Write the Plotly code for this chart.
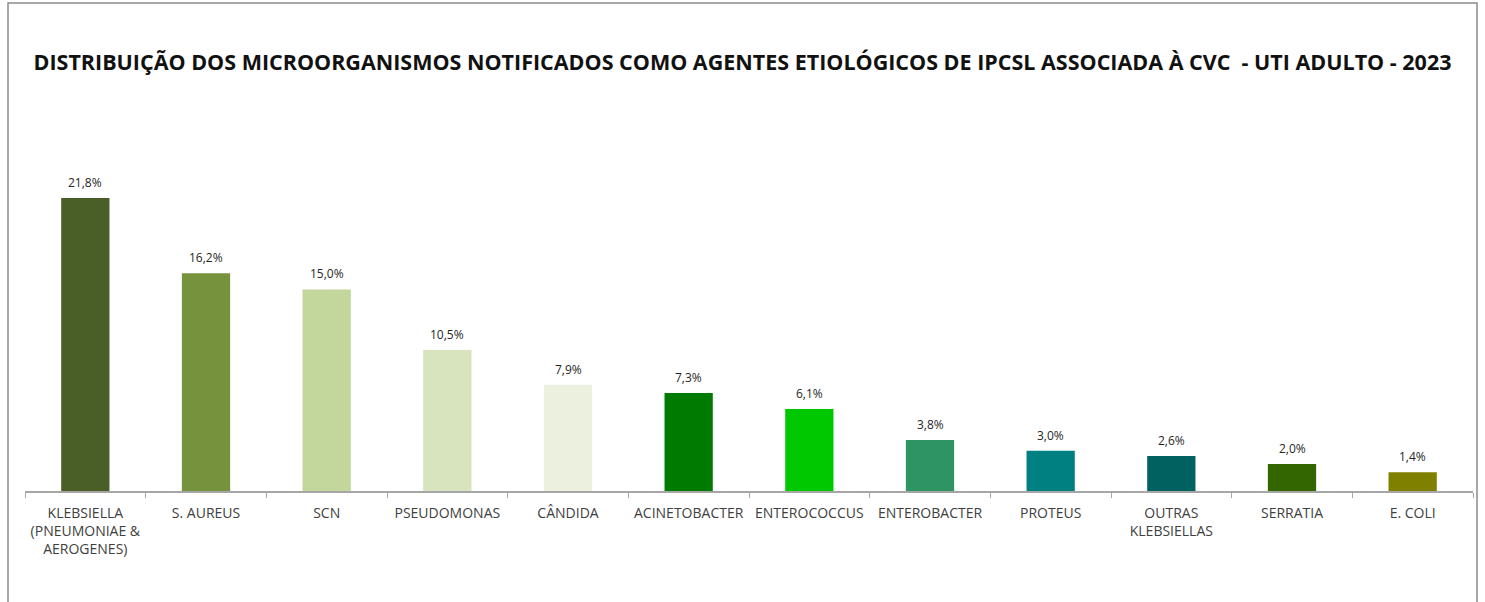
import plotly.graph_objects as go

categories = [
    "KLEBSIELLA<br>(PNEUMONIAE &<br>AEROGENES)", "S. AUREUS", "SCN", "PSEUDOMONAS",
    "CÂNDIDA", "ACINETOBACTER", "ENTEROCOCCUS", "ENTEROBACTER", "PROTEUS",
    "OUTRAS<br>KLEBSIELLAS", "SERRATIA", "E. COLI",
]
values = [21.8, 16.2, 15.0, 10.5, 7.9, 7.3, 6.1, 3.8, 3.0, 2.6, 2.0, 1.4]
colors = ["#4a5e27", "#76923c", "#c3d69b", "#d7e4bd", "#ebf1de", "#007a00",
          "#00c800", "#2e9463", "#008080", "#006161", "#336600", "#808000"]
title = "DISTRIBUIÇÃO DOS MICROORGANISMOS NOTIFICADOS COMO AGENTES ETIOLÓGICOS DE IPCSL ASSOCIADA À CVC  - UTI ADULTO - 2023"

fig = go.Figure(go.Bar(
    x=categories, y=values,
    marker=dict(color=colors, line=dict(width=0)),
    width=0.4,
    hoverinfo="x+y",
))

for c, v in zip(categories, values):
    fig.add_annotation(x=c, y=v, text=f"{v:.1f}%".replace(".", ","), showarrow=False,
                       yanchor="bottom", yshift=5,
                       font=dict(size=12, color="#262626", family="Open Sans"))

W, H = 1485, 602
ml, mr, mt, mb = 25, W - 1473, 168, H - 491
pw, ph = W - ml - mr, H - mt - mb

fig.update_layout(
    width=W, height=H,
    margin=dict(l=ml, r=mr, t=mt, b=mb),
    paper_bgcolor="white", plot_bgcolor="white",
    showlegend=False,
    title=dict(text="<b>" + title + "</b>", x=0.5, xanchor="center", y=1 - 62 / H, yanchor="middle",
               font=dict(size=21.5, color="#111111", family="Open Sans")),
    xaxis=dict(type="category", showline=True, linecolor="#a6a6a6", linewidth=1.5,
               ticks="outside", tickson="boundaries", ticklen=5, tickcolor="#a6a6a6",
               tickfont=dict(size=14, color="#404040", family="Open Sans"),
               ticklabelstandoff=8,
               showgrid=False, fixedrange=True),
    yaxis=dict(range=[0, ph / 13.44], visible=False, showgrid=False, fixedrange=True),
    shapes=[dict(type="rect", xref="paper", yref="paper",
                 x0=(8 - ml) / pw, x1=(1477 - ml) / pw,
                 y0=(491 - 610) / ph, y1=(491 - 3) / ph,
                 line=dict(color="#8c8c8c", width=1.5), fillcolor="rgba(0,0,0,0)")],
)

fig.write_html("out.html", config={"displayModeBar": False},
               post_script="document.body.style.margin='0';document.body.style.overflow='hidden';")
